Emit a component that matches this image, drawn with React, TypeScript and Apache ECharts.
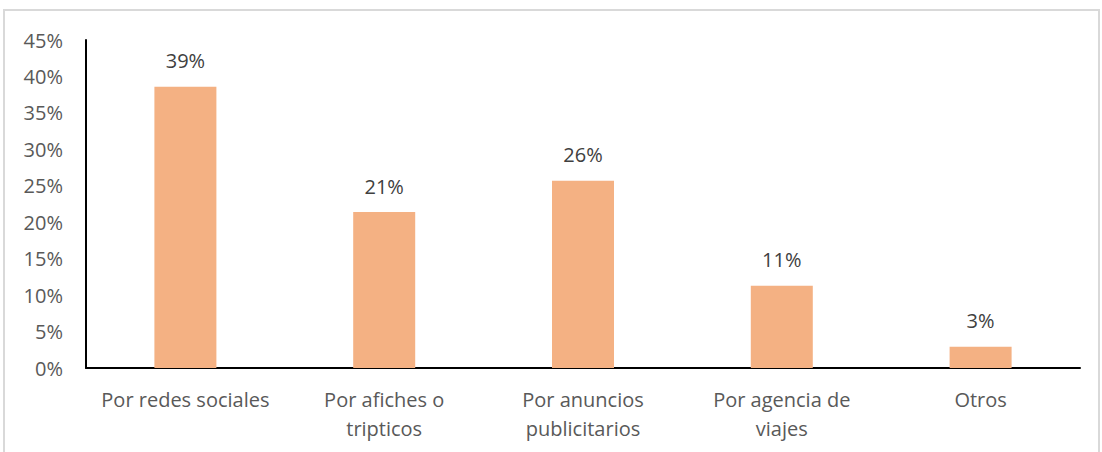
import React, { useEffect, useRef } from "react";
import * as echarts from "echarts";

const categories = [
  "Por redes sociales",
  "Por afiches o\ntripticos",
  "Por anuncios\npublicitarios",
  "Por agencia de\nviajes",
  "Otros",
];
const values = [38.6, 21.4, 25.7, 11.3, 2.9];
const yTicks = { min: 0, max: 45, interval: 5 };

const FONT = "'Open Sans', sans-serif";
const TEXT = "#595959";

export default function App() {
  const ref = useRef<HTMLDivElement>(null);
  useEffect(() => {
    if (!ref.current) return;
    const chart = echarts.init(ref.current, undefined, { renderer: "svg" });
    chart.setOption({
      animation: false,
      backgroundColor: "#ffffff",
      graphic: [
        {
          type: "rect",
          shape: { x: 4, y: 10, width: 1095, height: 460 },
          style: { fill: "none", stroke: "#d9d9d9", lineWidth: 2 },
          silent: true,
        },
      ],
      grid: { left: 86, top: 40, right: 22, bottom: 84, containLabel: false },
      xAxis: {
        type: "category",
        data: categories,
        axisLine: { show: true, lineStyle: { color: "#000000", width: 2 } },
        axisTick: { show: false },
        axisLabel: {
          color: TEXT,
          fontFamily: FONT,
          fontSize: 20,
          lineHeight: 29,
          margin: 17,
          interval: 0,
        },
      },
      yAxis: {
        type: "value",
        min: yTicks.min,
        max: yTicks.max,
        interval: yTicks.interval,
        axisLine: { show: true, lineStyle: { color: "#000000", width: 2 } },
        axisTick: { show: false },
        splitLine: { show: false },
        axisLabel: {
          color: TEXT,
          fontFamily: FONT,
          fontSize: 20,
          margin: 23,
          formatter: (v: number) => `${v}%`,
        },
      },
      series: [
        {
          type: "bar",
          data: values,
          barWidth: 62,
          itemStyle: { color: "#F4B183" },
          label: {
            show: true,
            position: "top",
            distance: 16,
            color: "#404040",
            fontFamily: FONT,
            fontSize: 20,
            formatter: (p: any) => `${Math.round(p.value)}%`,
          },
        },
      ],
    });
    return () => chart.dispose();
  }, []);
  return (
    <div
      ref={ref}
      style={{ position: "fixed", left: 0, top: 0, width: 1102, height: 452 }}
    />
  );
}
